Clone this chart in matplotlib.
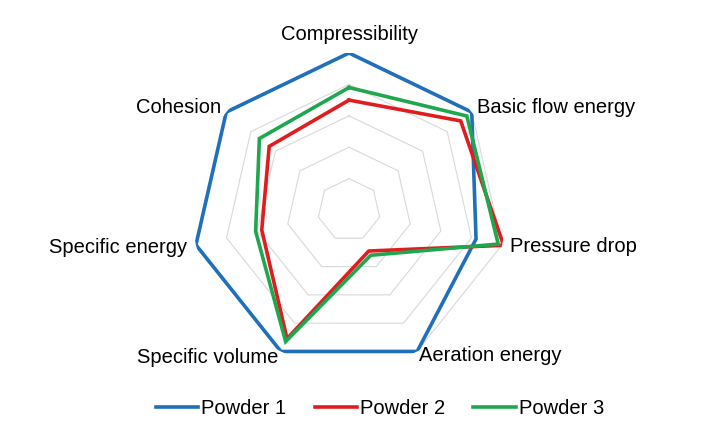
import numpy as np
import matplotlib
matplotlib.use("Agg")
import matplotlib.pyplot as plt
from matplotlib.lines import Line2D

categories = ["Compressibility", "Basic flow energy", "Pressure drop", "Aeration energy",
              "Specific volume", "Specific energy", "Cohesion"]
powder1 = [1.00, 1.00, 0.83, 1.00, 1.00, 1.00, 1.00]
powder2 = [0.70, 0.91, 1.01, 0.29, 0.91, 0.57, 0.65]
powder3 = [0.78, 0.96, 0.975, 0.32, 0.93, 0.61, 0.73]
series_names = ["Powder 1", "Powder 2", "Powder 3"]
grid_levels = [0.2, 0.4, 0.6, 0.8, 1.0]

colors = ["#1f6fba", "#e01c1f", "#1fa74f"]

plt.rcParams['font.family'] = ['Liberation Sans', 'DejaVu Sans']

fig = plt.figure(figsize=(7.07, 4.41), dpi=100)
cx, cy, R = 349 / 707, 1 - 210 / 441, 157
ax = fig.add_axes([cx - R / 707, cy - R / 441, 2 * R / 707, 2 * R / 441], projection='polar')
ax.set_theta_offset(np.pi / 2)
ax.set_theta_direction(-1)
ax.set_ylim(0, 1)
ax.grid(False)
ax.spines['polar'].set_visible(False)
ax.set_xticks([])
ax.set_yticks([])
ax.patch.set_visible(False)

n = len(categories)
angles = np.linspace(0, 2 * np.pi, n, endpoint=False)
closed = np.concatenate([angles, angles[:1]])

for lvl in grid_levels:
    ax.plot(closed, [lvl] * (n + 1), color="#d9d9d9", lw=0.8, zorder=1)

for vals, col, name in zip([powder1, powder2, powder3], colors, series_names):
    v = list(vals) + [vals[0]]
    ax.plot(closed, v, color=col, lw=2.6, zorder=3, label=name, solid_joinstyle='miter')

fs = 14.5
# labels
label_cfg = [
    (1.06, 'center', 'bottom'),
    (1.045, 'left', 'center'),
    (1.055, 'left', 'center'),
    (1.03, 'left', 'center'),
    (1.04, 'right', 'center'),
    (1.06, 'right', 'center'),
    (1.045, 'right', 'center'),
]
for ang, cat, (r, ha, va) in zip(angles, categories, label_cfg):
    ax.text(ang, r, cat, ha=ha, va=va, fontsize=fs, color="#000000", clip_on=False)

handles = [Line2D([0], [0], color=c, lw=2.6) for c in colors]
fig.legend(handles, series_names, loc='center', bbox_to_anchor=(380 / 707, 1 - 409 / 441),
           ncol=3, frameon=False, fontsize=fs, handlelength=2.1, handletextpad=0.15,
           columnspacing=1.4)

fig.savefig("out.png", dpi=100)
